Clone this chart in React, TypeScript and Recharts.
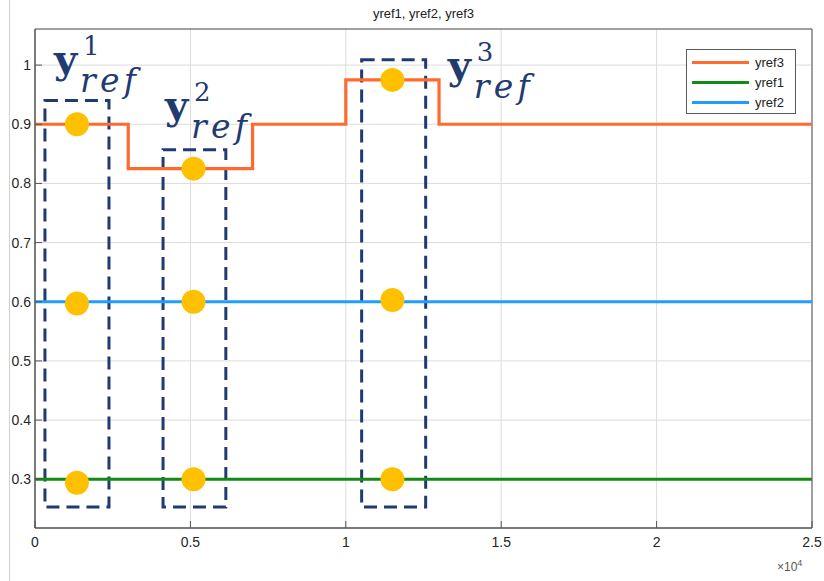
import React from "react";
import {
  ComposedChart,
  Line,
  Scatter,
  XAxis,
  YAxis,
  CartesianGrid,
  ReferenceArea,
} from "recharts";

// axis layout
const X_DOMAIN: [number, number] = [0, 25000];
const Y_DOMAIN: [number, number] = [0.2176, 1.061];
const X_TICKS = [0, 5000, 10000, 15000, 20000, 25000];
const Y_TICKS = [0.3, 0.4, 0.5, 0.6, 0.7, 0.8, 0.9, 1];

// reference signals
const YREF3 = [
  { x: 0, y: 0.9 },
  { x: 3000, y: 0.825 },
  { x: 7000, y: 0.9 },
  { x: 10000, y: 0.975 },
  { x: 13000, y: 0.9 },
  { x: 25000, y: 0.9 },
];
const YREF1 = [
  { x: 0, y: 0.3 },
  { x: 25000, y: 0.3 },
];
const YREF2 = [
  { x: 0, y: 0.6 },
  { x: 25000, y: 0.6 },
];

// sampled reference vectors
const SAMPLES = [
  { x: 1350, y: 0.9 },
  { x: 1350, y: 0.597 },
  { x: 1350, y: 0.294 },
  { x: 5100, y: 0.825 },
  { x: 5100, y: 0.6 },
  { x: 5100, y: 0.3 },
  { x: 11500, y: 0.975 },
  { x: 11500, y: 0.603 },
  { x: 11500, y: 0.3 },
];

// dashed windows around each sample
const WINDOWS = [
  { k: "1", x1: 320, x2: 2380, y1: 0.253, y2: 0.94 },
  { k: "2", x1: 4120, x2: 6140, y1: 0.253, y2: 0.857 },
  { k: "3", x1: 10510, x2: 12570, y1: 0.253, y2: 1.009 },
];
// where each y_ref label sits relative to its window (px)
const LABEL_OFFSETS = [
  { dx: 9, dy: -28 },
  { dx: 2, dy: -31 },
  { dx: 86, dy: 19 },
];

const SERIES = [
  { name: "yref3", color: "#ff6a2e" },
  { name: "yref1", color: "#138a13" },
  { name: "yref2", color: "#1f9eff" },
];

const NAVY = "#1f3b70";
const SANS = "'Liberation Sans', Arial, sans-serif";
const SERIF = "'DejaVu Serif', 'Liberation Serif', serif";
const TICK_IN = 7;

function YRefLabel({ viewBox, idx, k }: any) {
  const { x, y } = viewBox;
  const o = LABEL_OFFSETS[idx];
  const bx = x + o.dx;
  const by = y + o.dy;
  return (
    <g fill={NAVY} fontFamily={SERIF}>
      <text x={bx} y={by} fontSize={40} fontWeight="bold">
        y
      </text>
      <text x={bx + 29} y={by - 18} fontSize={26}>
        {k}
      </text>
      <text
        x={bx + 26}
        y={by + 19}
        fontSize={33}
        fontStyle="italic"
        textLength={56}
        lengthAdjust="spacing"
      >
        ref
      </text>
    </g>
  );
}

function LegendBox() {
  return (
    <div
      style={{
        position: "absolute",
        left: 686,
        top: 49,
        width: 110,
        height: 65,
        border: "1px solid #5a5a5a",
        background: "#fff",
        boxSizing: "border-box",
        padding: "2px 0 0 5px",
        fontFamily: SANS,
        fontSize: 13,
        color: "#222",
      }}
    >
      {SERIES.map((s) => (
        <div
          key={s.name}
          style={{ display: "flex", alignItems: "center", height: 20 }}
        >
          <span
            style={{
              display: "inline-block",
              width: 57,
              height: 3,
              background: s.color,
              marginRight: 6,
            }}
          />
          {s.name}
        </div>
      ))}
    </div>
  );
}

export default function App() {
  const tick = { fontSize: 14, fill: "#262626", fontFamily: SANS };
  const blank = () => "";
  return (
    <div
      style={{
        position: "absolute",
        left: 0,
        top: 0,
        width: 824,
        height: 581,
        background: "#fff",
      }}
    >
      <div
        style={{
          position: "absolute",
          left: 9,
          top: 0,
          width: 1,
          height: 581,
          background: "#d0d0d0",
        }}
      />
      <div
        style={{
          position: "absolute",
          left: 35,
          width: 777,
          top: 6,
          textAlign: "center",
          fontFamily: SANS,
          fontSize: 13,
          color: "#222",
        }}
      >
        yref1, yref2, yref3
      </div>
      <div
        style={{
          position: "absolute",
          left: 777,
          top: 558,
          fontFamily: SANS,
          fontSize: 12,
          color: "#555",
        }}
      >
        ×10<sup style={{ fontSize: 9 }}>4</sup>
      </div>
      <ComposedChart
        width={824}
        height={581}
        margin={{ top: 29, right: 12, left: 0, bottom: 0 }}
      >
        <CartesianGrid stroke="#dcdcdc" />
        <XAxis
          type="number"
          dataKey="x"
          domain={X_DOMAIN}
          ticks={X_TICKS}
          allowDataOverflow
          tickFormatter={(v: number) => String(v / 10000)}
          height={53}
          tickSize={-TICK_IN}
          tickMargin={TICK_IN + 9}
          tickLine={{ stroke: "#555" }}
          axisLine={{ stroke: "#555" }}
          tick={tick}
        />
        <XAxis
          xAxisId="top"
          orientation="top"
          type="number"
          dataKey="x"
          domain={X_DOMAIN}
          ticks={X_TICKS}
          allowDataOverflow
          height={0}
          tickSize={-TICK_IN}
          tickFormatter={blank}
          tickLine={{ stroke: "#555" }}
          axisLine={false}
        />
        <YAxis
          type="number"
          dataKey="y"
          domain={Y_DOMAIN}
          ticks={Y_TICKS}
          allowDataOverflow
          width={35}
          tickSize={-TICK_IN}
          tickMargin={TICK_IN + 4}
          tickLine={{ stroke: "#555" }}
          axisLine={{ stroke: "#555" }}
          tick={tick}
        />
        <YAxis
          yAxisId="right"
          orientation="right"
          type="number"
          dataKey="y"
          domain={Y_DOMAIN}
          ticks={Y_TICKS}
          allowDataOverflow
          width={0}
          tickSize={-TICK_IN}
          tickFormatter={blank}
          tickLine={{ stroke: "#555" }}
          axisLine={false}
        />
        <ReferenceArea
          x1={X_DOMAIN[0]}
          x2={X_DOMAIN[1]}
          y1={Y_DOMAIN[0]}
          y2={Y_DOMAIN[1]}
          fill="none"
          fillOpacity={0}
          stroke="#555"
          strokeWidth={1}
        />
        <Line
          data={YREF1}
          dataKey="y"
          name="yref1"
          stroke="#138a13"
          strokeWidth={3.2}
          dot={false}
          isAnimationActive={false}
        />
        <Line
          data={YREF2}
          dataKey="y"
          name="yref2"
          stroke="#1f9eff"
          strokeWidth={3.2}
          dot={false}
          isAnimationActive={false}
        />
        <Line
          data={YREF3}
          dataKey="y"
          name="yref3"
          type="stepAfter"
          stroke="#ff6a2e"
          strokeWidth={3.2}
          dot={false}
          isAnimationActive={false}
        />
        <Scatter
          data={SAMPLES}
          dataKey="y"
          isAnimationActive={false}
          shape={(p: any) => (
            <circle cx={p.cx} cy={p.cy} r={12} fill="#ffc000" />
          )}
        />
        {WINDOWS.map((w, i) => (
          <ReferenceArea
            key={w.k}
            x1={w.x1}
            x2={w.x2}
            y1={w.y1}
            y2={w.y2}
            fill="none"
            fillOpacity={0}
            stroke={NAVY}
            strokeWidth={3}
            strokeDasharray="13 7"
            label={(props: any) => (
              <YRefLabel viewBox={props.viewBox} idx={i} k={w.k} />
            )}
          />
        ))}
      </ComposedChart>
      <LegendBox />
    </div>
  );
}
